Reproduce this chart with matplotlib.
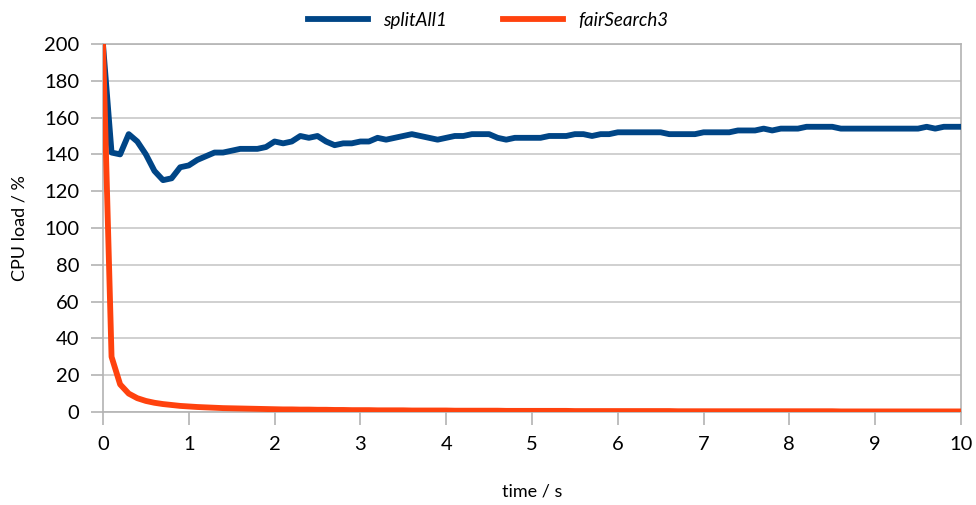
import numpy as np
import matplotlib.pyplot as plt

plt.rcParams['font.family'] = ['Lato', 'DejaVu Sans']

# time axis, one sample every 0.1 s
time_s = np.round(np.arange(0, 101) * 0.1, 1)

split_all1 = [
    200, 141, 140, 151, 147, 140, 131, 126, 127, 133,
    134, 137, 139, 141, 141, 142, 143, 143, 143, 144,
    147, 146, 147, 150, 149, 150, 147, 145, 146, 146,
    147, 147, 149, 148, 149, 150, 151, 150, 149, 148,
    149, 150, 150, 151, 151, 151, 149, 148, 149, 149,
    149, 149, 150, 150, 150, 151, 151, 150, 151, 151,
    152, 152, 152, 152, 152, 152, 151, 151, 151, 151,
    152, 152, 152, 152, 153, 153, 153, 154, 153, 154,
    154, 154, 155, 155, 155, 155, 154, 154, 154, 154,
    154, 154, 154, 154, 154, 154, 155, 154, 155, 155,
    155,
]

fair_search3 = [
    200, 30, 15, 10, 7.5, 6.0, 5.0, 4.3, 3.8, 3.3,
    3.0, 2.7, 2.5, 2.3, 2.1, 2.0, 1.9, 1.8, 1.7, 1.6,
    1.5, 1.4, 1.4, 1.3, 1.3, 1.2, 1.2, 1.1, 1.1, 1.0,
    1.0, 1.0, 0.9, 0.9, 0.9, 0.9, 0.8, 0.8, 0.8, 0.8,
    0.8, 0.7, 0.7, 0.7, 0.7, 0.7, 0.7, 0.6, 0.6, 0.6,
    0.6, 0.6, 0.6, 0.6, 0.6, 0.5, 0.5, 0.5, 0.5, 0.5,
    0.5, 0.5, 0.5, 0.5, 0.5, 0.5, 0.5, 0.4, 0.4, 0.4,
    0.4, 0.4, 0.4, 0.4, 0.4, 0.4, 0.4, 0.4, 0.4, 0.4,
    0.4, 0.4, 0.4, 0.4, 0.4, 0.4, 0.3, 0.3, 0.3, 0.3,
    0.3, 0.3, 0.3, 0.3, 0.3, 0.3, 0.3, 0.3, 0.3, 0.3,
    0.3,
]

fig = plt.figure(figsize=(9.76, 5.05), dpi=100)
ax = fig.add_axes([0.1055, 0.1842, 0.8791, 0.7287])

ax.plot(time_s, split_all1, color='#004586', lw=4.2, label='splitAll1', zorder=3)
ax.plot(time_s, fair_search3, color='#ff420e', lw=4.2, label='fairSearch3', zorder=3)

ax.set_xlim(0, 10)
ax.set_ylim(0, 200)
ax.set_xticks(range(0, 11))
ax.set_yticks(range(0, 201, 20))
ax.grid(axis='y', color='#c8c8c8', lw=1.2)
ax.set_axisbelow(True)
for s in ax.spines.values():
    s.set_color('#b3b3b3')
    s.set_linewidth(1.2)
ax.tick_params(colors='#b3b3b3', labelcolor='black', labelsize=14.5,
               length=9, width=1.2, pad=8)

ax.set_xlabel('time / s', fontsize=13, labelpad=22)
ax.set_ylabel('CPU load / %', fontsize=13, labelpad=12)

leg = fig.legend(loc='upper center', bbox_to_anchor=(0.5, 1.01), ncol=2,
                 frameon=False, handlelength=3.2, columnspacing=3,
                 prop={'style': 'italic', 'size': 13.5})

fig.savefig('out.png')
